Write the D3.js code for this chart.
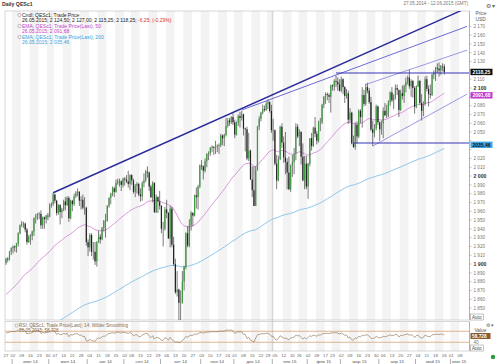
<!DOCTYPE html>
<html>
<head>
<meta charset="utf-8">
<style>
  body { margin: 0; background: #fff; }
  svg text { font-family: "Liberation Sans", Arial, sans-serif; }
</style>
<script src="https://d3js.org/d3.v7.min.js"></script>
</head>
<body>
<svg width="500" height="364"></svg>
<script>
// trading calendar (QESc1, daily)
var firstDay = "2014-05-27", lastDay = "2015-06-12";
var holidays = ["2014-07-04","2014-09-01","2014-11-27","2014-12-25","2015-01-01",
                "2015-01-19","2015-02-16","2015-04-03","2015-05-25"];
var monthNames = ["янв","фев","мар","апр","май","июн","июл","авг","сен","окт","ноя","дек"];

// OHLC, one row per month (May 14 .. May 15)
var opens = [
  1901,1906,1905,1914,
  1918,1920,1919,1923,1935,1944,1946,1946,1939,1925,1931,1932,1937,1952,1954,1957,1957,1944,1953,1951,1955,
  1954,1967,1968,1979,1972,1958,1967,1959,1962,1971,1967,1975,1952,1972,1968,1977,1981,1982,1972,1973,1964,1964,
  1925,1919,1933,1914,1914,1903,1925,1931,1928,1941,1949,1949,1966,1975,1980,1986,1982,1992,1994,1994,1990,
  1997,1996,1994,1991,2001,1995,1982,1989,1991,1979,1977,1992,1995,2005,2004,1988,1976,1992,1959,1976,1971,
  1966,1940,1940,1962,1958,1929,1963,1922,1900,1868,1871,1856,1856,1880,1897,1935,1921,1944,1958,1955,1978,1976,1988,
  2012,2011,2006,2017,2025,2026,2032,2033,2032,2033,2034,2035,2046,2043,2047,2057,2063,2061,2067,
  2061,2047,2061,2068,2066,2070,2054,2053,2020,2029,1996,1984,1966,2007,2056,2065,2072,2076,2075,2082,2084,2074,
  2052,2052,2014,1995,2019,2056,2038,2021,2016,2004,1985,2012,2016,2025,2056,2045,2050,2022,1995,2014,
  1988,2014,2043,2034,2055,2048,2040,2061,2061,2081,2090,2093,2092,2090,2103,2102,2108,2107,2104,
  2097,2110,2101,2091,2094,2064,2072,2037,2033,2058,2045,2074,2067,2092,2082,2101,2097,2084,2053,2049,2054,2079,
  2061,2053,2060,2074,2069,2075,2084,2095,2086,2089,2100,2098,2075,2094,2091,2102,2107,2112,2102,2108,2100,
  2079,2102,2108,2083,2074,2082,2110,2099,2093,2092,2115,2117,2123,2122,2120,2125,2124.5
];
var highs = [
  1907,1908,1915,1919,
  1921,1921,1924,1936,1945,1949,1948,1947,1941,1933,1934,1938,1953,1957,1958,1959,1961,1954,1954,1956,1958,
  1969,1970,1981,1980,1973,1968,1968,1964,1973,1976,1977,1977,1973,1973,1980,1983,1986,1983,1977,1979,1976,1965,
  1928,1935,1935,1925,1925,1926,1938,1934,1942,1950,1957,1967,1976,1981,1988,1988,1996,1997,1997,1995,1998,
  1999,2001,2006,2002,2002,1997,1991,1993,1992,1986,1994,2003,2007,2011,2005,1990,1994,1993,1979,1977,1983,
  1967,1948,1965,1973,1959,1966,1965,1931,1906,1892,1872,1870,1892,1898,1936,1943,1951,1960,1959,1979,1987,1990,2013,
  2018,2012,2020,2026,2028,2033,2035,2034,2040,2036,2037,2048,2047,2048,2066,2066,2066,2068,2072,
  2064,2062,2070,2073,2074,2071,2055,2056,2049,2030,2011,2011,2011,2057,2068,2073,2081,2080,2085,2087,2085,2081,
  2065,2053,2024,2023,2057,2060,2045,2050,2020,2022,2013,2024,2032,2060,2059,2053,2051,2037,2023,2023,
  2015,2043,2049,2056,2067,2051,2063,2066,2082,2091,2095,2095,2094,2104,2104,2110,2114,2112,2110,
  2113,2111,2102,2099,2097,2077,2073,2046,2061,2062,2076,2076,2101,2098,2105,2106,2100,2090,2063,2059,2081,2080,
  2062,2063,2078,2083,2081,2086,2096,2101,2093,2104,2104,2098,2098,2103,2104,2112,2114,2121,2110,2109,2102,
  2103,2114,2109,2093,2085,2113,2114,2103,2104,2116,2120,2124,2128,2129,2126,2128,2127
];
var lows = [
  1899,1902,1904,1910,
  1912,1914,1913,1920,1934,1942,1941,1936,1922,1924,1922,1927,1932,1946,1950,1951,1940,1940,1940,1946,1950,
  1953,1964,1966,1969,1955,1956,1945,1952,1960,1961,1966,1948,1951,1960,1966,1975,1977,1966,1962,1962,1956,1921,
  1909,1914,1909,1905,1899,1897,1924,1923,1927,1937,1930,1948,1964,1968,1977,1976,1981,1990,1988,1983,1987,
  1989,1992,1987,1984,1990,1980,1976,1980,1977,1971,1972,1987,1993,1998,1983,1975,1970,1958,1958,1958,1962,
  1935,1920,1938,1952,1929,1919,1919,1898,1866,1863,1814,1829,1855,1870,1894,1919,1919,1938,1943,1954,1963,1962,1986,
  2007,1996,2004,2010,2018,2023,2027,2024,2025,2027,2025,2033,2035,2034,2045,2055,2057,2059,2058,
  2043,2046,2057,2055,2063,2046,2028,2018,2017,1996,1976,1966,1966,2006,2052,2062,2070,2073,2074,2076,2072,2049,
  2040,2012,1985,1994,2018,2032,2015,2002,1985,1984,1982,1999,2002,2018,2043,2034,2013,1994,1985,1985,
  1974,2011,2029,2033,2044,2036,2038,2051,2059,2077,2082,2086,2083,2072,2097,2097,2101,2097,2096,
  2095,2093,2083,2088,2059,2061,2036,2032,2030,2037,2043,2060,2055,2079,2080,2094,2082,2051,2034,2044,2052,2058,
  2040,2047,2043,2068,2066,2067,2080,2084,2076,2087,2092,2067,2074,2087,2083,2095,2104,2099,2090,2089,2071,
  2077,2101,2081,2063,2068,2080,2096,2079,2088,2091,2110,2108,2117,2113,2115,2119,2115.25
];
var closes = [
  1906,1905,1914,1918,
  1920,1919,1923,1935,1944,1946,1946,1939,1925,1931,1932,1937,1952,1954,1957,1957,1944,1953,1951,1955,1954,
  1967,1968,1979,1972,1958,1967,1959,1962,1971,1967,1975,1952,1972,1968,1977,1981,1982,1972,1973,1964,1964,1925,
  1919,1933,1914,1914,1903,1925,1931,1928,1941,1949,1949,1966,1975,1980,1986,1982,1992,1994,1994,1990,1997,
  1996,1994,1991,2001,1995,1982,1989,1991,1979,1977,1992,1995,2005,2004,1988,1976,1992,1959,1976,1971,1966,
  1940,1940,1962,1958,1929,1963,1922,1900,1868,1871,1856,1856,1880,1897,1935,1921,1944,1958,1955,1978,1976,1988,2012,
  2011,2006,2017,2025,2026,2032,2033,2032,2033,2034,2035,2046,2043,2047,2057,2063,2061,2067,2061,
  2047,2061,2068,2066,2070,2054,2053,2020,2029,1996,1984,1966,2007,2056,2065,2072,2076,2075,2082,2084,2074,2052,
  2052,2014,1995,2019,2056,2038,2021,2016,2004,1985,2012,2016,2025,2056,2045,2050,2022,1995,2014,1988,
  2014,2043,2034,2055,2048,2040,2061,2061,2081,2090,2093,2092,2090,2103,2102,2108,2107,2104,2097,
  2110,2101,2091,2094,2064,2072,2037,2033,2058,2045,2074,2067,2092,2082,2101,2097,2084,2053,2049,2054,2079,2061,
  2053,2060,2074,2069,2075,2084,2095,2086,2089,2100,2098,2075,2094,2091,2102,2107,2112,2102,2108,2100,2079,
  2102,2108,2083,2074,2082,2110,2099,2093,2092,2115,2117,2123,2122,2120,2125,2124.5,2118.25
];

// indicator start values at 27.05.2014
var ema50Start = 1864, ema200Start = 1795;
var rsiStartGain = 5.2, rsiStartLoss = 3.0;

// drawn studies: [date, price] pairs
var trendLines = [
  {from: ["2014-07-03", 1981], to: ["2015-06-12", 2191], color: "#2b2b9a", width: 1.4},
  {from: ["2014-12-05", 2075], to: ["2015-06-12", 2170], color: "#5a5ad0", width: 0.9},
  {from: ["2015-03-20", 2104], to: ["2015-06-12", 2143], color: "#8080dd", width: 0.8},
  {from: ["2015-03-26", 2034], to: ["2015-06-12", 2093], color: "#8080dd", width: 0.8}
];
var levels = [
  {from: "2015-02-25", price: 2117, color: "#3434b8"},
  {from: "2015-03-11", price: 2037.5, color: "#3434b8"}
];
var lastBoxes = [
  {value: 2118.25, text: "2118,25", fill: "#111", color: "#fff"},
  {value: 2091.68, text: "2091,68", fill: "#c03ad0", color: "#fff"},
  {value: 2035.46, text: "2035,46", fill: "#3ea8e4", color: "#111"}
];
var priceTicks = d3.range(1850, 2171, 10);

// ---- build calendar
var parse = d3.timeParse("%Y-%m-%d"), fmt = d3.timeFormat("%Y-%m-%d");
var days = d3.timeDay.range(parse(firstDay), d3.timeDay.offset(parse(lastDay), 1))
  .filter(function(d) { return d.getDay() % 6 != 0 && holidays.indexOf(fmt(d)) < 0; });
var idx = {};
days.forEach(function(d, i) { idx[fmt(d)] = i; });

var bars = closes.map(function(c, i) {
  return {i: i, o: opens[i], h: highs[i], l: lows[i], c: c};
});

// EMA + RSI from the closes
function ema(n, start) {
  var k = 2 / (n + 1), v = start;
  return closes.map(function(c) { v = v + k * (c - v); return v; });
}
var ema50 = ema(50, ema50Start), ema200 = ema(200, ema200Start);
var ag = rsiStartGain, al = rsiStartLoss, prev = opens[0];
var rsi = closes.map(function(c) {
  var ch = c - prev; prev = c;
  ag = (ag * 13 + Math.max(ch, 0)) / 14;
  al = (al * 13 + Math.max(-ch, 0)) / 14;
  return 100 - 100 / (1 + ag / al);
});

var svg = d3.select("svg");
var L = 5, R = 469.5, T = 11, B = 320;

var x = d3.scaleLinear().domain([0, days.length - 1]).range([6, 467]);
var y = d3.scaleLinear().domain([1836.4, 2187.5]).range([B, T]);
var ry = d3.scaleLinear().domain([0, 100]).range([350.5, 323]);

svg.append("rect").attr("width", 500).attr("height", 364).attr("fill", "#fff");

// week stripes
var weekStarts = days.map(function(d, i) { return i; })
  .filter(function(i) { return i == 0 || d3.timeMonday.floor(days[i]) > days[i - 1]; });
var stripes = svg.append("g");
weekStarts.forEach(function(s, k) {
  if (k % 2 == 0) return;
  var e = k + 1 < weekStarts.length ? weekStarts[k + 1] : days.length;
  var x0 = x(s - 0.5), x1 = Math.min(x(e - 0.5), R);
  stripes.append("rect").attr("x", x0).attr("y", T).attr("width", x1 - x0).attr("height", B - T)
    .attr("fill", "#f3f3f3");
  stripes.append("rect").attr("x", x0).attr("y", 322).attr("width", x1 - x0).attr("height", 29)
    .attr("fill", "#f3f3f3");
});

// year divider
var ny = idx["2015-01-02"] - 0.5;
svg.append("line").attr("x1", x(ny)).attr("x2", x(ny)).attr("y1", T).attr("y2", 351)
  .attr("stroke", "#c8c8c8").attr("stroke-width", 0.8);

// frames
svg.append("rect").attr("x", L).attr("y", T).attr("width", R - L).attr("height", B - T)
  .attr("fill", "none").attr("stroke", "#bdbdbd").attr("stroke-width", 0.6);
svg.append("rect").attr("x", L).attr("y", 321.5).attr("width", R - L).attr("height", 29.5)
  .attr("fill", "none").attr("stroke", "#bdbdbd").attr("stroke-width", 0.6);

svg.append("clipPath").attr("id", "clip").append("rect")
  .attr("x", L).attr("y", T).attr("width", R - L).attr("height", B - T);
var pg = svg.append("g").attr("clip-path", "url(#clip)");

// EMAs
var line = d3.line().x(function(d, i) { return x(i); }).y(function(d) { return y(d); });
pg.append("path").attr("d", line(ema200)).attr("fill", "none").attr("stroke", "#7ec0ea").attr("stroke-width", 0.9);
pg.append("path").attr("d", line(ema50)).attr("fill", "none").attr("stroke", "#d58ad8").attr("stroke-width", 0.9);

// candles
var cg = pg.append("g");
cg.selectAll("line").data(bars).enter().append("line")
  .attr("x1", function(d) { return x(d.i); }).attr("x2", function(d) { return x(d.i); })
  .attr("y1", function(d) { return y(d.h); }).attr("y2", function(d) { return y(d.l); })
  .attr("stroke", "#222").attr("stroke-width", 0.6);
cg.selectAll("rect").data(bars).enter().append("rect")
  .attr("x", function(d) { return x(d.i) - 0.6; }).attr("width", 1.2)
  .attr("y", function(d) { return y(Math.max(d.o, d.c)); })
  .attr("height", function(d) { return Math.max(0.5, Math.abs(y(d.o) - y(d.c))); })
  .attr("fill", function(d) { return d.c >= d.o ? "#3f9b3f" : "#222"; });

// trend lines and levels
trendLines.forEach(function(t) {
  pg.append("line")
    .attr("x1", x(idx[t.from[0]])).attr("y1", y(t.from[1]))
    .attr("x2", x(idx[t.to[0]])).attr("y2", y(t.to[1]))
    .attr("stroke", t.color).attr("stroke-width", t.width);
});
levels.forEach(function(l) {
  pg.append("line").attr("x1", x(idx[l.from])).attr("x2", R)
    .attr("y1", y(l.price)).attr("y2", y(l.price))
    .attr("stroke", l.color).attr("stroke-width", 1.1);
});

// right price axis
var ax = svg.append("g").attr("transform", "translate(" + R + ",0)");
ax.append("line").attr("y1", T).attr("y2", B).attr("stroke", "#999").attr("stroke-width", 0.6);
priceTicks.forEach(function(v) {
  var big = v % 100 == 0;
  ax.append("line").attr("x1", 0).attr("x2", 2).attr("y1", y(v)).attr("y2", y(v))
    .attr("stroke", "#888").attr("stroke-width", 0.5);
  var hidden = lastBoxes.some(function(b) { return Math.abs(y(b.value) - y(v)) < 5.5; });
  if (hidden) return;
  ax.append("text").attr("x", 4).attr("y", y(v) + 1.7)
    .attr("font-size", big ? 5.2 : 4.6).attr("font-weight", big ? "bold" : "normal")
    .attr("fill", big ? "#333" : "#777")
    .text(d3.format(",")(v).replace(",", " "));
});
ax.append("text").attr("x", 6).attr("y", 15).attr("font-size", 4.8).attr("fill", "#555").text("Price");
ax.append("text").attr("x", 6).attr("y", 20.5).attr("font-size", 4.8).attr("fill", "#555").text("USD");
ax.append("text").attr("x", 16).attr("y", 8).attr("font-size", 6).attr("fill", "#666").text("⚙ ▾");
lastBoxes.forEach(function(b) {
  ax.append("rect").attr("x", 1).attr("y", y(b.value) - 3.2).attr("width", 22).attr("height", 6.4)
    .attr("fill", b.fill);
  ax.append("text").attr("x", 3).attr("y", y(b.value) + 1.8).attr("font-size", 5)
    .attr("font-weight", "bold").attr("fill", b.color).text(b.text);
});
ax.append("rect").attr("x", 1).attr("y", 314).attr("width", 13).attr("height", 6)
  .attr("fill", "#fff").attr("stroke", "#888").attr("stroke-width", 0.5);
ax.append("text").attr("x", 2.5).attr("y", 318.7).attr("font-size", 4.6).attr("fill", "#444").text("Auto");

// RSI panel
var rg = svg.append("g");
[70, 30].forEach(function(v) {
  rg.append("line").attr("x1", L).attr("x2", R).attr("y1", ry(v)).attr("y2", ry(v))
    .attr("stroke", "#d6a57a").attr("stroke-width", 0.8);
});
var rline = d3.line().x(function(d, i) { return x(i); }).y(function(d) { return ry(d); });
rg.append("path").attr("d", rline(rsi)).attr("fill", "none").attr("stroke", "#8a6a48").attr("stroke-width", 0.6);
var rax = svg.append("g").attr("transform", "translate(" + R + ",0)");
rax.append("line").attr("y1", 321.5).attr("y2", 351).attr("stroke", "#999").attr("stroke-width", 0.6);
rax.append("text").attr("x", 16).attr("y", 327).attr("font-size", 5).attr("fill", "#666").text("⚙ ▾");
rax.append("text").attr("x", 5).attr("y", 332).attr("font-size", 4.8).attr("fill", "#555").text("Value");
rax.append("rect").attr("x", 1).attr("y", 333).attr("width", 20).attr("height", 6)
  .attr("fill", "#8c5a2a");
rax.append("text").attr("x", 2.5).attr("y", 337.8).attr("font-size", 4.8)
  .attr("font-weight", "bold").attr("fill", "#fff").text("58,728");
rax.append("text").attr("x", 4).attr("y", 343.5).attr("font-size", 4.6).attr("fill", "#777").text("40");
rax.append("rect").attr("x", 1).attr("y", 345).attr("width", 13).attr("height", 6)
  .attr("fill", "#fff").attr("stroke", "#888").attr("stroke-width", 0.5);
rax.append("text").attr("x", 2.5).attr("y", 349.7).attr("font-size", 4.6).attr("fill", "#444").text("Auto");

// time axis
var tg = svg.append("g");
weekStarts.forEach(function(i) {
  tg.append("text").attr("x", x(i)).attr("y", 356.5).attr("text-anchor", "middle")
    .attr("font-size", 4.4).attr("fill", "#666").text(d3.timeFormat("%d")(days[i]));
});
var months = d3.groups(days.map(function(d, i) { return {d: d, i: i}; }),
  function(o) { return d3.timeFormat("%Y-%m")(o.d); });
months.forEach(function(m) {
  var a = m[1][0].i, b = m[1][m[1].length - 1].i;
  var d = m[1][0].d;
  if (a > 0) tg.append("line").attr("x1", x(a - 0.5)).attr("x2", x(a - 0.5)).attr("y1", 359).attr("y2", 364)
    .attr("stroke", "#777").attr("stroke-width", 0.6);
  if (b - a > 8) tg.append("text").attr("x", x((a + b) / 2)).attr("y", 362.5).attr("text-anchor", "middle")
    .attr("font-size", 4.4).attr("fill", "#555")
    .text(monthNames[d.getMonth()] + " " + d3.timeFormat("%y")(d));
});
svg.append("circle").attr("cx", 493).attr("cy", 357).attr("r", 2.2).attr("fill", "#2a9a3a");

// titles and legends
svg.append("text").attr("x", 2).attr("y", 6).attr("font-size", 5.2).attr("font-weight", "bold")
  .attr("fill", "#333").text("Daily QESc1");
svg.append("text").attr("x", 468).attr("y", 4.5).attr("text-anchor", "end").attr("font-size", 4.6)
  .attr("fill", "#777").text("27.05.2014 - 12.06.2015 (GMT)");

var legend = [
  {t: "Cndl; QESc1; Trade Price", c: "#222", icon: true},
  {t: "26.05.2015; 2 124,50; 2 127,00; 2 115,25; 2 118,25; ", c: "#222", extra: "-6,25; (-0,29%)"},
  {t: "EMA; QESc1; Trade Price(Last); 50", c: "#c040c8", icon: true},
  {t: "26.05.2015; 2 091,68", c: "#c040c8"},
  {t: "EMA; QESc1; Trade Price(Last); 200", c: "#3aa0dc", icon: true},
  {t: "26.05.2015; 2 035,46", c: "#3aa0dc"}
];
var lg = svg.append("g");
legend.forEach(function(l, k) {
  var yy = 16.5 + k * 5.5;
  if (l.icon) lg.append("circle").attr("cx", 19.5).attr("cy", yy - 1.5).attr("r", 1.6)
    .attr("fill", "#fff").attr("stroke", "#777").attr("stroke-width", 0.5);
  var t = lg.append("text").attr("x", 22).attr("y", yy).attr("font-size", 5).attr("fill", l.c);
  t.append("tspan").text(l.t);
  if (l.extra) t.append("tspan").attr("fill", "#e03030").text(l.extra);
});
lg.append("circle").attr("cx", 16.5).attr("cy", 325.5).attr("r", 1.5)
  .attr("fill", "#fff").attr("stroke", "#777").attr("stroke-width", 0.5);
lg.append("text").attr("x", 19).attr("y", 327.3).attr("font-size", 4.6).attr("fill", "#8a6a48")
  .text("RSI; QESc1; Trade Price(Last); 14; Wilder Smoothing");
lg.append("text").attr("x", 19).attr("y", 332).attr("font-size", 4.6).attr("fill", "#8a6a48")
  .text("26.05.2015; 58,728");
</script>
</body>
</html>
